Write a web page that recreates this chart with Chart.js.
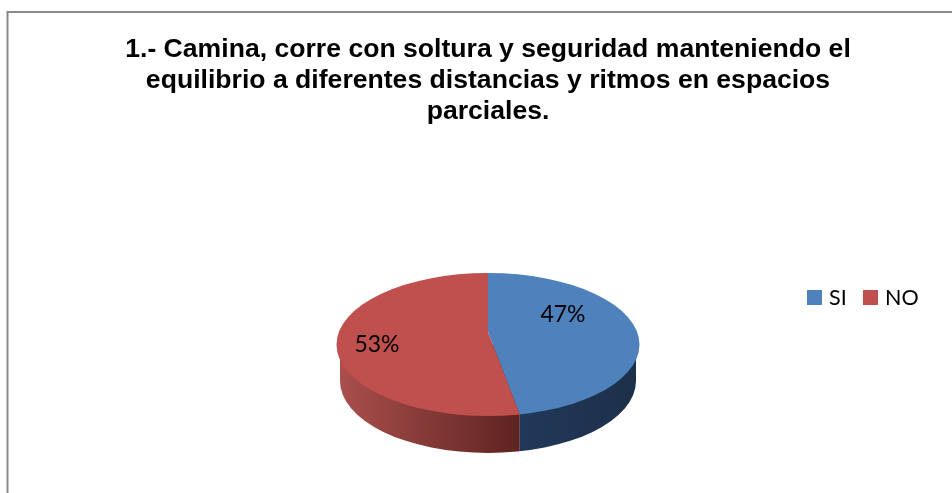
<!DOCTYPE html>
<html>
<head>
<meta charset="utf-8">
<style>
html,body{margin:0;padding:0;background:#fff;overflow:hidden}
#wrap{position:absolute;left:0;top:0;width:952px;height:493px}
</style>
<script src="https://cdn.jsdelivr.net/npm/chart.js@4"></script>
</head>
<body>
<div id="wrap"><canvas id="c" width="952" height="493"></canvas></div>
<script>
const categories = ['SI', 'NO'];
const values = [47, 53];
const colors = ['#4f81bd', '#c0504d'];
const titleLines = [
  '1.- Camina, corre con soltura y seguridad manteniendo el',
  'equilibrio a diferentes distancias y ritmos en espacios',
  'parciales.'
];

const labelFont = '23px Lato';
const legendFont = '21.5px Lato';
// Tilt of the pie, as ratios of the pie's own radius
const RX = 151.5 / 145, RY = 71.5 / 145, EY = 12.5 / 145;
const BX = 148 / 145, BY = 72 / 145, BDY = 49 / 145;
const SX = 1.4, SY = 1.4 * 0.495;

function ellipsePath(ctx, x, y, rx, ry) {
  ctx.beginPath();
  ctx.ellipse(x, y, rx, ry, 0, 0, Math.PI * 2);
}

// where the wedge boundary leaving the centre at this angle meets the rim
function rimX(angle, x, ex, ey, h) {
  const dx = Math.cos(angle) * SX, dy = Math.sin(angle) * SY;
  const a = dx * dx / (ex * ex) + dy * dy / (ey * ey);
  const b = -2 * dy * h / (ey * ey);
  const c = h * h / (ey * ey) - 1;
  const t = (-b + Math.sqrt(b * b - 4 * a * c)) / (2 * a);
  return x + t * dx;
}

const tiltPlugin = {
  id: 'tilt',
  beforeDraw(chart) {
    const { ctx } = chart;
    ctx.save();
    ctx.strokeStyle = '#8a8a8a';
    ctx.lineWidth = 2;
    ctx.beginPath();
    ctx.moveTo(7.5, 493);
    ctx.lineTo(7.5, 12);
    ctx.lineTo(952, 12);
    ctx.stroke();
    ctx.restore();
  },
  beforeDatasetsDraw(chart) {
    const { ctx } = chart;
    const arcs = chart.getDatasetMeta(0).data;
    const { x, y, outerRadius: R } = arcs[0];
    const ex = R * RX, ey = R * RY, ecy = y + R * EY;
    const bx = R * BX, by = R * BY, bcy = y + R * BDY;
    const tipX = rimX(arcs[0].endAngle, x, ex, ey, ecy - y);

    // side wall
    ctx.save();
    ctx.beginPath();
    ctx.moveTo(x - bx, ecy);
    ctx.lineTo(x - bx, bcy);
    ctx.ellipse(x, bcy, bx, by, 0, Math.PI, 0, true);
    ctx.lineTo(x + bx, ecy);
    ctx.closePath();
    ctx.clip();
    const red = ctx.createLinearGradient(x - bx, 0, tipX, 0);
    red.addColorStop(0, '#a94f4c');
    red.addColorStop(1, '#5e2321');
    ctx.fillStyle = red;
    ctx.fillRect(x - bx - 1, ecy - 1, tipX - x + bx + 1, by * 2 + 60);
    const blue = ctx.createLinearGradient(tipX, 0, x + bx, 0);
    blue.addColorStop(0, '#22385a');
    blue.addColorStop(1, '#1c3049');
    ctx.fillStyle = blue;
    ctx.fillRect(tipX, ecy - 1, x + bx - tipX + 1, by * 2 + 60);
    ctx.restore();

    // top face
    ctx.save();
    ellipsePath(ctx, x, ecy, ex, ey);
    ctx.clip();
    ctx.translate(x, y);
    ctx.scale(SX, SY);
    ctx.translate(-x, -y);
  },
  afterDatasetsDraw(chart) {
    const { ctx } = chart;
    ctx.restore();
    const arcs = chart.getDatasetMeta(0).data;
    const { x, y, outerRadius: R } = arcs[0];
    const total = values.reduce((a, b) => a + b, 0);

    // data labels
    ctx.save();
    ctx.font = labelFont;
    ctx.fillStyle = '#000';
    ctx.textAlign = 'center';
    ctx.textBaseline = 'middle';
    const labelOffset = [[75 / 145, -17 / 145], [-111 / 145, 13 / 145]];
    values.forEach((v, i) => {
      ctx.fillText(Math.round(v / total * 100) + '%',
        x + labelOffset[i][0] * R, y + labelOffset[i][1] * R);
    });

    // legend
    ctx.font = legendFont;
    ctx.textAlign = 'left';
    let lx = 807;
    categories.forEach((name, i) => {
      ctx.fillStyle = colors[i];
      ctx.fillRect(lx, 290, 15, 15);
      ctx.fillStyle = '#000';
      ctx.fillText(name, lx + 22, 298);
      lx += 56;
    });
    ctx.restore();
  }
};

new Chart(document.getElementById('c'), {
  type: 'pie',
  data: {
    labels: categories,
    datasets: [{ data: values, backgroundColor: colors, borderWidth: 0 }]
  },
  options: {
    responsive: false,
    animation: false,
    layout: { padding: { left: 24, right: 0, top: 0, bottom: 16 } },
    plugins: {
      legend: { display: false },
      tooltip: { enabled: false },
      title: {
        display: true,
        text: titleLines,
        color: '#000',
        font: { family: '"Liberation Sans"', size: 26.6, weight: 'bold', lineHeight: 31 / 26.6 },
        padding: { top: 34, bottom: 60 }
      }
    }
  },
  plugins: [tiltPlugin]
});
</script>
</body>
</html>
